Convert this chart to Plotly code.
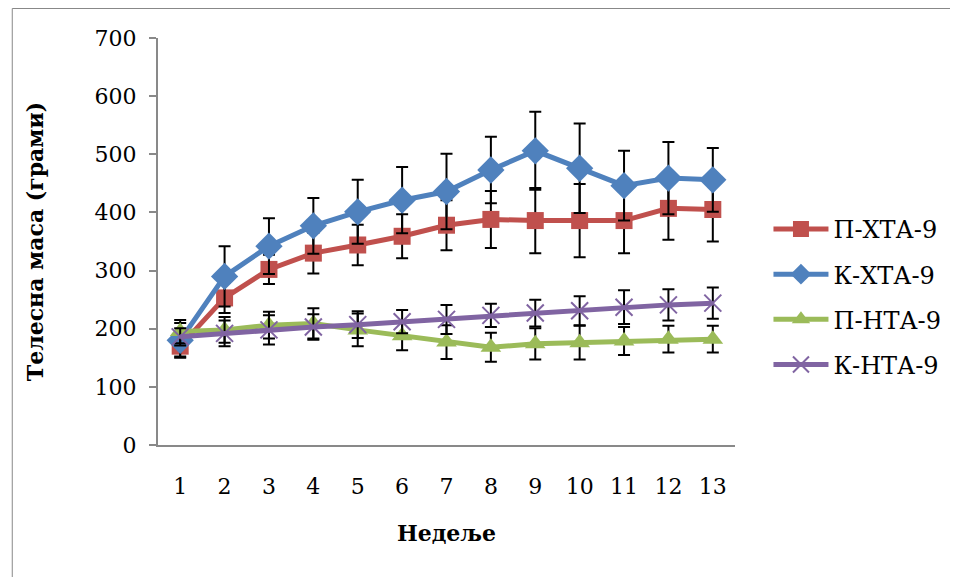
import plotly.graph_objects as go

weeks = [str(i) for i in range(1, 14)]

p_xta = [170, 253, 302, 330, 344, 359, 378, 388, 386, 386, 386, 407, 405]
p_xta_err = [18, 26, 25, 35, 35, 38, 43, 49, 56, 63, 56, 54, 55]

k_xta = [180, 290, 342, 377, 401, 421, 436, 473, 506, 476, 446, 459, 456]
k_xta_err = [30, 52, 48, 48, 55, 57, 65, 57, 67, 77, 60, 62, 55]

p_nta = [195, 198, 206, 209, 198, 188, 177, 168, 174, 176, 179, 182, 182]
p_nta_err = [20, 22, 23, 26, 28, 25, 29, 25, 27, 29, 24, 23, 23]

k_nta = [186, 192, 198, 203, 207, 212, 216, 223, 227, 231, 237, 241, 244]
k_nta_err = [15, 22, 25, 22, 23, 20, 25, 20, 23, 25, 29, 27, 27]

series = [
    ("П-ХТА-9", p_xta, p_xta_err, "#C0504D", "square", 17, None),
    ("К-ХТА-9", k_xta, k_xta_err, "#4F81BD", "diamond", 21, None),
    ("П-НТА-9", p_nta, p_nta_err, "#9BBB59", "triangle-up", 18, None),
    ("К-НТА-9", k_nta, k_nta_err, "#8064A2", "x-thin-open", 17, 2),
]

FONT = "DejaVu Serif"
FS = 22

fig = go.Figure()
for i, (name, vals, errs, color, sym, size, mlw) in enumerate(series):
    marker = dict(symbol=sym, size=size, color=color)
    if mlw:
        marker["line"] = dict(color=color, width=mlw)
    fig.add_trace(go.Scatter(
        x=weeks, y=vals, name=name, mode="lines+markers",
        legendgroup=f"g{i}",
        line=dict(color=color, width=5),
        marker=marker,
        error_y=dict(type="data", array=errs, visible=True,
                     color="black", thickness=2, width=6),
    ))

W, H = 950, 569
L, T, PW, PH = 150, 30, 582, 407

fig.update_layout(
    width=W, height=H,
    margin=dict(l=L, r=W - L - PW, t=T, b=H - T - PH),
    paper_bgcolor="white", plot_bgcolor="white",
    font=dict(family=FONT, size=FS, color="black"),
    showlegend=True,
    legend=dict(x=1.058, y=0.364, xanchor="left", yanchor="middle",
                traceorder="grouped", tracegroupgap=11,
                itemwidth=55, font=dict(family=FONT, size=24)),
    xaxis=dict(
        type="category", range=[-0.5, 12.5],
        showline=True, linecolor="#898989", linewidth=2,
        showgrid=False, zeroline=False, ticks="",
        ticklabelstandoff=21,
        tickfont=dict(family=FONT, size=FS),
        title=dict(text="<b>Недеље</b>", standoff=27,
                   font=dict(family=FONT, size=FS)),
    ),
    yaxis=dict(
        range=[0, 700], dtick=100,
        showline=True, linecolor="#898989", linewidth=2,
        showgrid=False, zeroline=False,
        ticks="outside", ticklen=7, tickcolor="#898989", tickwidth=2,
        ticklabelstandoff=8,
        tickfont=dict(family=FONT, size=FS),
        title=dict(text="<b>Телесна маса (грами)</b>", standoff=45,
                   font=dict(family=FONT, size=FS)),
    ),
    shapes=[dict(type="rect", xref="paper", yref="paper",
                 x0=(3 - L) / PW, x1=2.0,
                 y0=-1.0, y1=(PH + T - 0.5) / PH,
                 line=dict(color="#888888", width=1), layer="below")],
)

fig.write_html("out.html")
